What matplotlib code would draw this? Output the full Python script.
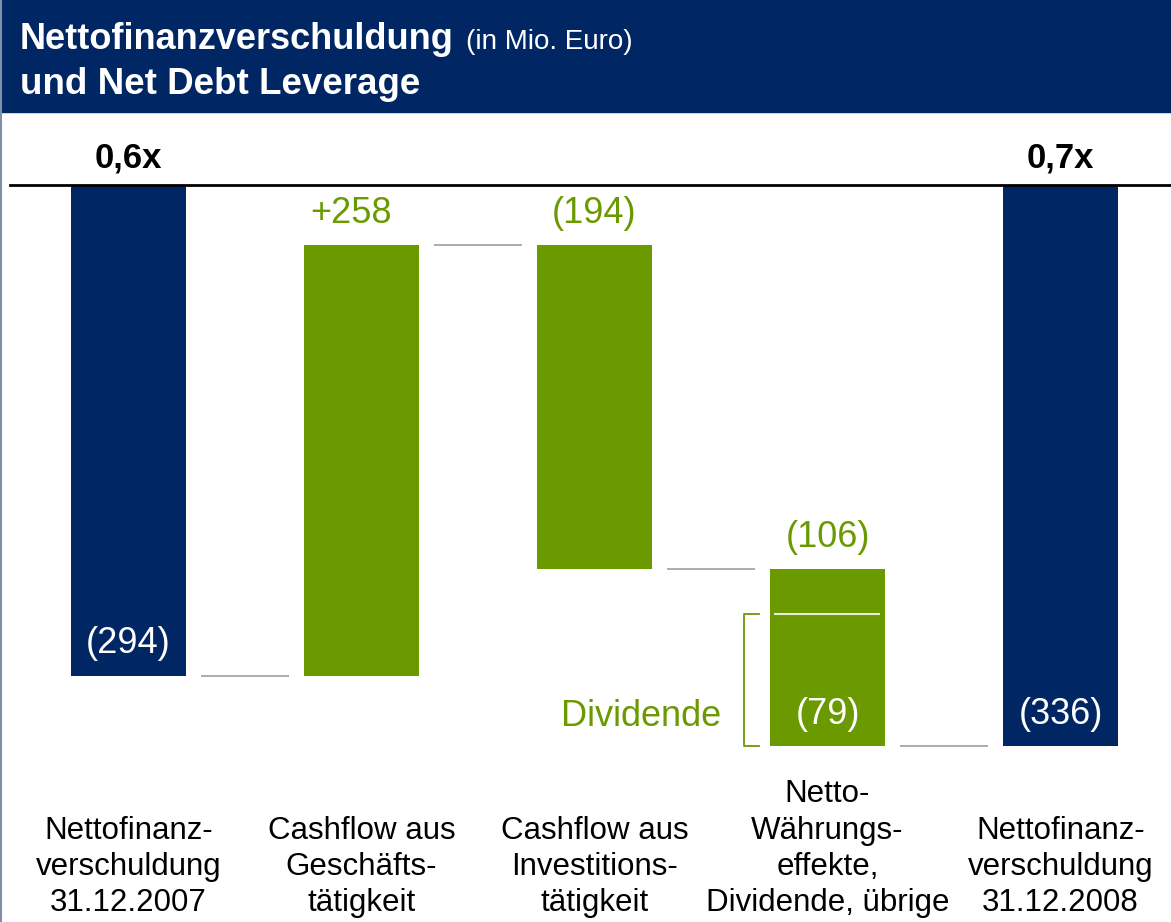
import matplotlib

matplotlib.use("Agg")

import matplotlib.pyplot as plt  # noqa: E402
from matplotlib.lines import Line2D  # noqa: E402
from matplotlib.patches import Rectangle  # noqa: E402

plt.rcParams["font.family"] = ["Liberation Sans", "DejaVu Sans"]

NAVY = "#002663"
GREEN = "#6a9a00"
GREY = "#a6a6a6"

categories = [
    "Nettofinanz-\nverschuldung\n31.12.2007",
    "Cashflow aus\nGeschäfts-\ntätigkeit",
    "Cashflow aus\nInvestitions-\ntätigkeit",
    "Netto-\nWährungs-\neffekte,\nDividende, übrige",
    "Nettofinanz-\nverschuldung\n31.12.2008",
]
values = [-294, 258, -194, -106, -336]
is_total = [True, False, False, False, True]
value_labels = ["(294)", "+258", "(194)", "(106)", "(336)"]
leverage = ["0,6x", "", "", "", "0,7x"]
dividend = -79
dividend_label = "(79)"

W, H = 1171, 922
PX_PER_UNIT = 1.67
TOP_PX = 185
X0_PX = 128.5
STEP_PX = 233

fig = plt.figure(figsize=(W / 100, H / 100), dpi=100)
ax = fig.add_axes([0, 0, 1, 1])
ax.set_xlim(-X0_PX / STEP_PX, (W - X0_PX) / STEP_PX)
ax.set_ylim(-(H - TOP_PX) / PX_PER_UNIT, TOP_PX / PX_PER_UNIT)
ax.axis("off")


def px(n):
    return n / STEP_PX


# header band
fig.patches.append(Rectangle((0, 1 - 112 / H), 1, 112 / H, transform=fig.transFigure,
                             color=NAVY, zorder=0))
fig.text(20 / W, 1 - 49 / H, "Nettofinanzverschuldung", color="white", fontsize=26,
         fontweight="bold", va="baseline")
fig.text(466 / W, 1 - 49 / H, "(in Mio. Euro)", color="white", fontsize=20, va="baseline")
fig.text(20 / W, 1 - 94 / H, "und Net Debt Leverage", color="white", fontsize=26.5,
         fontweight="bold", va="baseline")
fig.add_artist(Line2D([1 / W, 1 / W], [0, 1], transform=fig.transFigure, color="#8090a8", lw=1.5))

# waterfall
width = 115 / STEP_PX
bottoms, heights, running = [], [], 0
for v, tot in zip(values, is_total):
    if tot:
        bottoms.append(0)
        heights.append(v)
        running = v
    else:
        bottoms.append(running)
        heights.append(v)
        running += v
xs = list(range(len(values)))
colors = [NAVY if t else GREEN for t in is_total]
ax.bar(xs, heights, bottom=bottoms, width=width, color=colors, zorder=2)

ax.axhline(0, xmin=10 / W, xmax=1, color="black", lw=2, zorder=3)

# connectors
for i in range(len(values) - 1):
    level = bottoms[i] + heights[i]
    ax.hlines(level, i + width / 2 + px(15), i + 1 - width / 2 - px(15), color=GREY, lw=1.3)

for i, (lab, tot) in enumerate(zip(value_labels, is_total)):
    top = max(bottoms[i], bottoms[i] + heights[i])
    low = min(bottoms[i], bottoms[i] + heights[i])
    if tot:
        ax.annotate(lab, (i, low), xytext=(0, 32), textcoords="offset pixels", ha="center",
                    va="center", color="white", fontsize=26)
    else:
        dx = -10 if lab.startswith("+") else 0
        ax.annotate(lab, (i, top), xytext=(dx, 32), textcoords="offset pixels", ha="center",
                    va="center", color=GREEN, fontsize=26)
    if leverage[i]:
        ax.annotate(leverage[i], (i, 0), xytext=(0, 27), textcoords="offset pixels", ha="center",
                    va="center", color="black", fontsize=25, fontweight="bold")
    ax.text(i, -(911 - TOP_PX) / PX_PER_UNIT, categories[i], ha="center", va="baseline",
            fontsize=22.5, linespacing=1.27, color="black")

# dividend split inside the fourth bar
k = 3
div_level = bottoms[k] + heights[k] - dividend
div_bottom = bottoms[k] + heights[k]
ax.hlines(div_level, k - width / 2 + px(4), k + width / 2 - px(5), color="#e8eedc", lw=1.5, zorder=3)
ax.annotate(dividend_label, (k, div_bottom), xytext=(0, 32), textcoords="offset pixels",
            ha="center", va="center", color="white", fontsize=26)
bx = k - width / 2 - px(26)
tx = k - width / 2 - px(11)
ax.plot([tx, bx, bx, tx], [div_level, div_level, div_bottom, div_bottom], color=GREEN, lw=1.3)
ax.annotate("Dividende", (k, div_bottom), xytext=(-186, 30), textcoords="offset pixels",
            ha="center", va="center", color=GREEN, fontsize=26)

fig.savefig("out.png", dpi=100)
plt.close(fig)
